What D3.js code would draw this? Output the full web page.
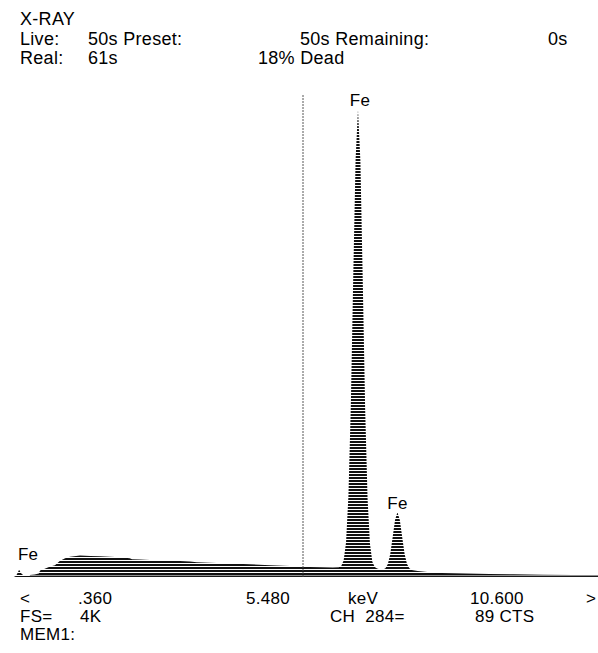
<!DOCTYPE html>
<html>
<head>
<meta charset="utf-8">
<script src="https://cdn.jsdelivr.net/npm/d3@7"></script>
<style>
  html, body { margin: 0; padding: 0; background: #fff; }
  svg text { font-family: "Liberation Sans", Arial, sans-serif; fill: #000; letter-spacing: 0.3px; }
</style>
</head>
<body>
<svg id="chart" width="598" height="653"></svg>
<script>
// ---- data ----
const energyKeV = [0.64, 0.68, 0.71, 0.73, 0.76, 0.80, 0.86, 0.91, 0.99, 1.06,
  1.08, 1.16, 1.25, 1.33, 1.41, 1.50, 1.58, 1.75, 1.92, 2.08,
  2.25, 2.42, 2.58, 2.62, 2.75, 2.92, 3.25, 3.59, 3.70, 3.92,
  4.26, 4.59, 4.93, 5.26, 5.48, 5.59, 5.80, 5.98, 6.08, 6.12,
  6.16, 6.20, 6.24, 6.28, 6.32, 6.36, 6.40, 6.44, 6.48, 6.52,
  6.56, 6.60, 6.64, 6.68, 6.72, 6.76, 6.82, 6.86, 6.90, 6.94,
  6.98, 7.02, 7.06, 7.10, 7.14, 7.18, 7.22, 7.26, 7.30, 7.40,
  7.60, 7.80, 8.20, 8.60, 9.00, 9.50, 10.00, 10.60];
const counts = [0, 10, 40, 62, 35, 14, 12, 18, 22, 30,
  55, 70, 90, 100, 135, 160, 172, 182, 178, 176,
  172, 168, 160, 150, 148, 145, 140, 132, 125, 122,
  115, 108, 100, 94, 89, 86, 82, 80, 82, 93,
  140, 294, 688, 1452, 2530, 3551, 3970, 3540, 2510, 1430,
  670, 285, 130, 85, 72, 66, 63, 74, 110, 196,
  337, 485, 550, 485, 337, 196, 110, 74, 60, 50,
  40, 35, 30, 26, 23, 20, 18, 15];

const peakLabels = ["Fe", "Fe", "Fe"];
const peakEnergies = [0.73, 6.40, 7.06];
const peakCounts = [62, 3970, 550];

const headerLines = [
  [["X-RAY", 0]],
  [["Live:", 0], ["50s Preset:", 68], ["50s Remaining:", 280], ["0s", 528]],
  [["Real:", 0], ["61s", 68], ["18% Dead", 238]]
];
const axisLabels = ["<", ".360", "5.480", "keV", "10.600", ">"];
const footerLines = [
  [["FS=", 0], ["4K", 60], ["CH  284=", 310], ["89 CTS", 455]],
  [["MEM1:", 0]]
];
const cursorKeV = 5.48;
const domainKeV = [0.36, 10.60];
const fullScale = 4096;

// ---- drawing ----
const svg = d3.select("#chart");
svg.append("rect").attr("width", 598).attr("height", 653).attr("fill", "#fff");

const x = d3.scaleLinear().domain(domainKeV).range([-3, 609]);
const y = d3.scaleLinear().domain([0, fullScale]).range([577, 95]);

const defs = svg.append("defs");
const pat = defs.append("pattern").attr("id", "scan")
  .attr("patternUnits", "userSpaceOnUse").attr("width", 4).attr("height", 3);
pat.append("rect").attr("x", 0).attr("y", 0).attr("width", 4).attr("height", 2).attr("fill", "#111");

const pts = energyKeV.map((e, i) => ({ e, c: counts[i] }));
const area = d3.area().x(d => x(d.e)).y0(y(0)).y1(d => y(d.c));
svg.append("path").datum(pts).attr("d", area).attr("fill", "url(#scan)");

// baseline band of the background
svg.append("path").datum(pts.filter(d => d.e > 0.9))
  .attr("d", d3.line().x(d => x(d.e)).y(() => y(0) - 1))
  .attr("stroke", "#222").attr("stroke-width", 1.2).attr("fill", "none");

// cursor line
svg.append("line")
  .attr("x1", x(cursorKeV)).attr("x2", x(cursorKeV))
  .attr("y1", y(fullScale)).attr("y2", y(0))
  .attr("stroke", "#444").attr("stroke-width", 0.9).attr("stroke-dasharray", "2,1");

// peak labels
const labelDx = [9, 2, 0];
const labelDy = [-10, -4, -3];
peakLabels.forEach((t, i) => {
  svg.append("text").attr("x", x(peakEnergies[i]) + labelDx[i])
    .attr("y", y(peakCounts[i]) + labelDy[i])
    .attr("text-anchor", "middle").attr("font-size", 17).text(t);
});

// header
const lineY = [25, 45, 64];
headerLines.forEach((ln, r) => {
  ln.forEach(([t, dx]) => {
    svg.append("text").attr("x", 20 + dx).attr("y", lineY[r]).attr("font-size", 18).text(t);
  });
});

// bottom axis labels
const axisX = [20, 78, 246, 348, 470, 586];
axisLabels.forEach((t, i) => {
  svg.append("text").attr("x", axisX[i]).attr("y", 604).attr("font-size", 17).text(t);
});
const footY = [622, 640];
footerLines.forEach((ln, r) => {
  ln.forEach(([t, dx]) => {
    svg.append("text").attr("x", 20 + dx).attr("y", footY[r]).attr("font-size", 17)
      .style("white-space", "pre").text(t);
  });
});
</script>
</body>
</html>
